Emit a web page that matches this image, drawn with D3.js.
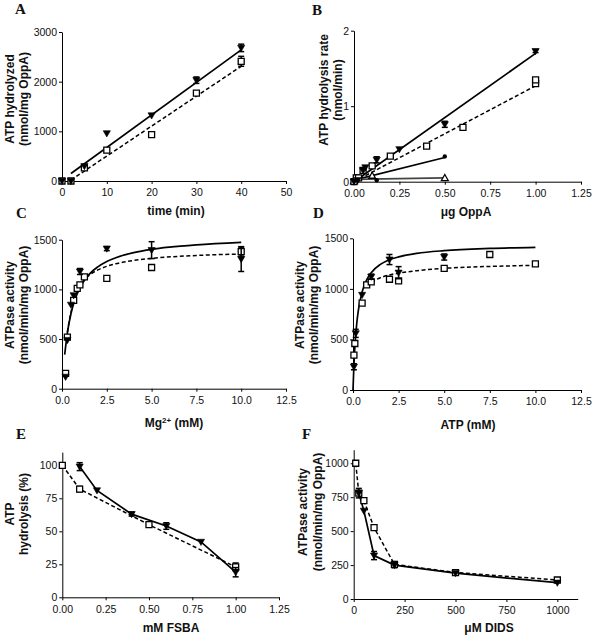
<!DOCTYPE html>
<html><head><meta charset="utf-8">
<script src="https://cdn.jsdelivr.net/npm/d3@7"></script>
<style>
html,body{margin:0;padding:0;background:#fff;}
svg{display:block;}
.axis .tick text{font-family:"Liberation Sans",Arial,sans-serif;font-size:10.5px;fill:#111;}
.axis .domain,.axis .tick line{stroke:#000;stroke-width:1;}
.title{font-family:"Liberation Sans",Arial,sans-serif;font-size:12px;font-weight:bold;fill:#111;}
.plabel{font-family:"Liberation Serif","Times New Roman",serif;font-size:15px;font-weight:bold;fill:#111;}
</style></head><body><svg id="c" width="594" height="638"></svg>
<script>
// ---------- Panel A ----------
const aTime = [0, 2, 5, 10, 20, 30, 40];
const aTriVal = [0, 0, 300, 960, 1320, 2030, 2680];
const aTriErr = [0, 0, 0, 0, 0, 65, 75];
const aSqVal = [0, 0, 265, 620, 935, 1770, 2410];
const aSqErr = [0, 0, 0, 0, 0, 0, 100];
const aFitX = [2, 40];
const aFitTri = [150, 2640];
const aFitSq = [20, 2310];
const aXTicks = [0, 10, 20, 30, 40, 50];
const aYTicks = [0, 1000, 2000, 3000];

// ---------- Panel B ----------
const bTriX = [0, 0.02, 0.05, 0.0625, 0.125, 0.25, 0.5, 1.0];
const bTriY = [0, 0.02, 0.15, 0.19, 0.29, 0.43, 0.76, 1.73];
const bTriErr = [0, 0, 0, 0, 0.04, 0, 0.04, 0.02];
const bSqX = [0, 0.0125, 0.025, 0.05, 0.1, 0.2, 0.4, 0.6, 1.0, 1.0];
const bSqY = [0, 0.05, 0.05, 0.15, 0.21, 0.34, 0.47, 0.72, 1.30, 1.35];
const bCircX = [0, 0.125, 0.5];
const bCircY = [0, 0.02, 0.335];
const bOpenX = [0, 0.1, 0.5];
const bOpenY = [0.01, 0.08, 0.05];
const bFitX = [0, 1.0];
const bFitTri = [0, 1.70];
const bFitSq = [0, 1.27];
const bFitCircX = [0, 0.5];
const bFitCirc = [0.02, 0.32];
const bFitOpenX = [0, 0.5];
const bFitOpen = [0.03, 0.05];
const bXTicks = [0, 0.25, 0.5, 0.75, 1.0, 1.25];
const bYTicks = [0, 1, 2];

// ---------- Panel C ----------
const cTriX = [0.2, 0.3, 0.5, 0.65, 1.0, 2.5, 5, 10];
const cTriY = [120, 490, 845, 940, 1180, 1410, 1395, 1305];
const cTriErr = [0, 0, 0, 0, 30, 20, 85, 125];
const cSqX = [0.2, 0.3, 0.65, 0.85, 1.0, 1.25, 2.5, 5, 10];
const cSqY = [155, 520, 890, 1010, 1045, 1125, 1110, 1220, 1380];
const cSqErr = [0, 0, 0, 0, 0, 0, 0, 25, 45];
const cFitTriX = [0.15, 0.3, 0.5, 0.75, 1, 1.5, 2, 2.5, 3, 4, 5, 6, 7.5, 10];
const cFitTriY = [344, 563, 755, 911, 1016, 1148, 1227, 1281, 1319, 1370, 1403, 1425, 1448, 1473];
const cFitSqX = [0.3, 0.5, 0.75, 1, 1.5, 2, 2.5, 3, 4, 5, 7.5, 10];
const cFitSqY = [570, 770, 930, 1035, 1139, 1196, 1232, 1258, 1291, 1312, 1341, 1356];
const cXTicks = [0, 2.5, 5, 7.5, 10, 12.5];
const cYTicks = [0, 500, 1000, 1500];

// ---------- Panel D ----------
const dTriX = [0.05, 0.15, 0.5, 1, 2, 2.5, 5];
const dTriY = [230, 560, 940, 1120, 1290, 1160, 1315];
const dTriErr = [30, 40, 0, 25, 50, 60, 30];
const dSqX = [0.05, 0.1, 0.5, 0.75, 1, 2, 2.5, 5, 7.5, 10];
const dSqY = [345, 460, 860, 1040, 1070, 1095, 1080, 1203, 1340, 1248];
const dFitTriX = [0, 0.05, 0.1, 0.2, 0.3, 0.5, 0.75, 1, 1.5, 2, 2.5, 3.5, 5, 7.5, 10];
const dFitTriY = [0, 244, 418, 648, 795, 969, 1089, 1160, 1242, 1288, 1316, 1351, 1378, 1400, 1411];
const dFitSqX = [0.75, 1, 1.5, 2, 2.5, 3.5, 5, 7.5, 10];
const dFitSqY = [1020, 1060, 1110, 1138, 1155, 1180, 1203, 1222, 1232];
const dXTicks = [0, 2.5, 5, 7.5, 10, 12.5];
const dYTicks = [0, 500, 1000, 1500];

// ---------- Panel E ----------
const eSqX = [0, 0.1, 0.5, 1.0];
const eSqY = [100, 82, 55, 23];
const eSqErr = [0, 2, 0, 3];
const eTriX = [0.1, 0.2, 0.4, 0.6, 0.8, 1.0];
const eTriY = [99, 81, 63, 54, 42, 19];
const eTriErr = [3, 0, 1.5, 2.5, 0, 3.5];
const eXTicks = [0, 0.25, 0.5, 0.75, 1.0, 1.25];
const eYTicks = [0, 25, 50, 75, 100];

// ---------- Panel F ----------
const fSqX = [10, 25, 50, 100, 200, 500, 1000];
const fSqY = [1000, 780, 725, 526, 255, 195, 140];
const fSqErr = [0, 0, 0, 0, 20, 0, 0];
const fTriX = [25, 50, 100, 200, 500, 1000];
const fTriY = [780, 650, 320, 250, 190, 120];
const fTriErr = [35, 0, 30, 20, 0, 0];
const fXTicks = [0, 250, 500, 750, 1000];
const fYTicks = [0, 250, 500, 750, 1000];

const svg = d3.select('#c');

function markerPath(kind) {
  if (kind === 'tri') return 'M-3.6,-2.6L3.6,-2.6L0,3.6Z';
  if (kind === 'otri') return 'M0,-3.4L3.4,2.6L-3.4,2.6Z';
  if (kind === 'sq') return 'M-3,-3L3,-3L3,3L-3,3Z';
  return null;
}

function drawPanel(p) {
  const x = d3.scaleLinear().domain(p.xDomain).range(p.xRange);
  const y = d3.scaleLinear().domain(p.yDomain).range(p.yRange);
  const g = svg.append('g');
  g.append('g').attr('class', 'axis').attr('transform', `translate(0,${p.yRange[0]})`)
    .call(d3.axisBottom(x).tickValues(p.xTicks).tickFormat(d3.format(p.xFmt)).tickSize(3).tickSizeOuter(0).tickPadding(5));
  g.append('g').attr('class', 'axis').attr('transform', `translate(${p.xRange[0]},0)`)
    .call(d3.axisLeft(y).tickValues(p.yTicks).tickFormat(d3.format(p.yFmt)).tickSize(3).tickSizeOuter(0).tickPadding(2));

  p.lines.forEach(l => {
    const pts = l.xs.map((v, i) => [v, l.ys[i]]);
    g.append('path').datum(pts)
      .attr('d', d3.line().x(d => x(d[0])).y(d => y(d[1])).curve(l.smooth ? d3.curveMonotoneX : d3.curveLinear))
      .attr('fill', 'none').attr('stroke', l.color || '#000')
      .attr('stroke-width', l.dashed ? 1.5 : 1.7)
      .attr('stroke-dasharray', l.dashed ? '4,2.5' : null);
  });

  p.series.forEach(s => {
    const pts = s.xs.map((v, i) => ({ x: v, y: s.ys[i], e: s.err ? s.err[i] : 0 }));
    const eb = g.append('g').attr('stroke', '#000').attr('stroke-width', 1.5);
    pts.filter(d => d.e > 0).forEach(d => {
      eb.append('line').attr('x1', x(d.x)).attr('x2', x(d.x)).attr('y1', y(d.y - d.e)).attr('y2', y(d.y + d.e));
      eb.append('line').attr('x1', x(d.x) - 3).attr('x2', x(d.x) + 3).attr('y1', y(d.y - d.e)).attr('y2', y(d.y - d.e));
      eb.append('line').attr('x1', x(d.x) - 3).attr('x2', x(d.x) + 3).attr('y1', y(d.y + d.e)).attr('y2', y(d.y + d.e));
    });
    const mg = g.append('g');
    pts.forEach(d => {
      if (s.kind === 'circ') {
        mg.append('circle').attr('cx', x(d.x)).attr('cy', y(d.y)).attr('r', 2.2).attr('fill', '#000');
      } else {
        const open = s.kind === 'sq' || s.kind === 'otri';
        mg.append('path').attr('d', markerPath(s.kind))
          .attr('transform', `translate(${x(d.x)},${y(d.y)})`)
          .attr('fill', open ? '#fff' : '#000')
          .attr('stroke', '#000').attr('stroke-width', open ? 1.3 : 0.6);
      }
    });
  });

  svg.append('text').attr('class', 'plabel').attr('x', p.label[1]).attr('y', p.label[2]).text(p.label[0]);
  p.yTitle.forEach(t => {
    svg.append('text').attr('class', 'title').attr('text-anchor', 'middle')
      .attr('dy', '0.35em')
      .attr('transform', `translate(${t[1]},${t[2]}) rotate(-90)`).text(t[0]);
  });
  const xt = svg.append('text').attr('class', 'title').attr('text-anchor', 'middle')
    .attr('x', p.xTitle[1]).attr('y', p.xTitle[2]);
  p.xTitle[0].forEach(part => {
    const ts = xt.append('tspan').text(part.t);
    if (part.sup) ts.attr('baseline-shift', 'super').attr('font-size', '8px');
  });
}

drawPanel({
  xDomain: [0, 50], xRange: [62, 286], yDomain: [0, 3000], yRange: [181, 32],
  xTicks: aXTicks, yTicks: aYTicks, xFmt: 'd', yFmt: 'd',
  lines: [
    { xs: aFitX, ys: aFitTri },
    { xs: aFitX, ys: aFitSq, dashed: true }
  ],
  series: [
    { kind: 'sq', xs: aTime, ys: aSqVal, err: aSqErr },
    { kind: 'tri', xs: aTime, ys: aTriVal, err: aTriErr }
  ],
  label: ['A', 15, 14],
  yTitle: [['ATP hydrolyzed', 10, 99], ['(nmol/mg OppA)', 23.5, 99]],
  xTitle: [[{ t: 'time (min)' }], 176, 215]
});

drawPanel({
  xDomain: [0, 1.25], xRange: [354, 581], yDomain: [0, 2], yRange: [181.7, 30.7],
  xTicks: bXTicks, yTicks: bYTicks, xFmt: '.2f', yFmt: 'd',
  lines: [
    { xs: bFitX, ys: bFitTri },
    { xs: bFitX, ys: bFitSq, dashed: true },
    { xs: bFitCircX, ys: bFitCirc },
    { xs: bFitOpenX, ys: bFitOpen, color: '#444' }
  ],
  series: [
    { kind: 'circ', xs: bCircX, ys: bCircY },
    { kind: 'otri', xs: bOpenX, ys: bOpenY },
    { kind: 'sq', xs: bSqX, ys: bSqY },
    { kind: 'tri', xs: bTriX, ys: bTriY, err: bTriErr }
  ],
  label: ['B', 312, 15],
  yTitle: [['ATP hydrolysis rate', 324, 90], ['(nmol/min)', 338, 90]],
  xTitle: [[{ t: 'μg OppA' }], 466, 216]
});

drawPanel({
  xDomain: [0, 12.5], xRange: [62, 286], yDomain: [0, 1500], yRange: [388.7, 239.7],
  xTicks: cXTicks, yTicks: cYTicks, xFmt: '.1f', yFmt: 'd',
  lines: [
    { xs: cFitTriX, ys: cFitTriY, smooth: true },
    { xs: cFitSqX, ys: cFitSqY, smooth: true, dashed: true }
  ],
  series: [
    { kind: 'sq', xs: cSqX, ys: cSqY, err: cSqErr },
    { kind: 'tri', xs: cTriX, ys: cTriY, err: cTriErr }
  ],
  label: ['C', 16, 218],
  yTitle: [['ATPase activity', 10, 305], ['(nmol/min/mg OppA)', 24, 305]],
  xTitle: [[{ t: 'Mg' }, { t: '2+', sup: true }, { t: ' (mM)' }], 174, 427]
});

drawPanel({
  xDomain: [0, 12.5], xRange: [353, 581], yDomain: [0, 1500], yRange: [390, 238.3],
  xTicks: dXTicks, yTicks: dYTicks, xFmt: '.1f', yFmt: 'd',
  lines: [
    { xs: dFitTriX, ys: dFitTriY, smooth: true },
    { xs: dFitSqX, ys: dFitSqY, smooth: true, dashed: true }
  ],
  series: [
    { kind: 'sq', xs: dSqX, ys: dSqY },
    { kind: 'tri', xs: dTriX, ys: dTriY, err: dTriErr }
  ],
  label: ['D', 313, 218],
  yTitle: [['ATPase activity', 300, 305], ['(nmol/min/mg OppA)', 314, 305]],
  xTitle: [[{ t: 'ATP (mM)' }], 468, 429]
});

drawPanel({
  xDomain: [0, 1.25], xRange: [62.3, 279], yDomain: [0, 110], yRange: [597.3, 452.1],
  xTicks: eXTicks, yTicks: eYTicks, xFmt: '.2f', yFmt: 'd',
  lines: [
    { xs: eTriX, ys: eTriY },
    { xs: eSqX, ys: eSqY, dashed: true }
  ],
  series: [
    { kind: 'sq', xs: eSqX, ys: eSqY, err: eSqErr },
    { kind: 'tri', xs: eTriX, ys: eTriY, err: eTriErr }
  ],
  label: ['E', 16, 439],
  yTitle: [['ATP', 10, 514], ['hydrolysis (%)', 24, 514]],
  xTitle: [[{ t: 'mM FSBA' }], 171, 632]
});

drawPanel({
  xDomain: [0, 1100], xRange: [353.7, 577.7], yDomain: [0, 1100], yRange: [599, 449.7],
  xTicks: fXTicks, yTicks: fYTicks, xFmt: 'd', yFmt: 'd',
  lines: [
    { xs: fTriX, ys: fTriY },
    { xs: fSqX, ys: fSqY, dashed: true }
  ],
  series: [
    { kind: 'sq', xs: fSqX, ys: fSqY, err: fSqErr },
    { kind: 'tri', xs: fTriX, ys: fTriY, err: fTriErr }
  ],
  label: ['F', 302, 439],
  yTitle: [['ATPase activity', 303, 512], ['(nmol/min/mg OppA)', 318, 512]],
  xTitle: [[{ t: 'μM DIDS' }], 489, 632]
});
</script></body></html>
